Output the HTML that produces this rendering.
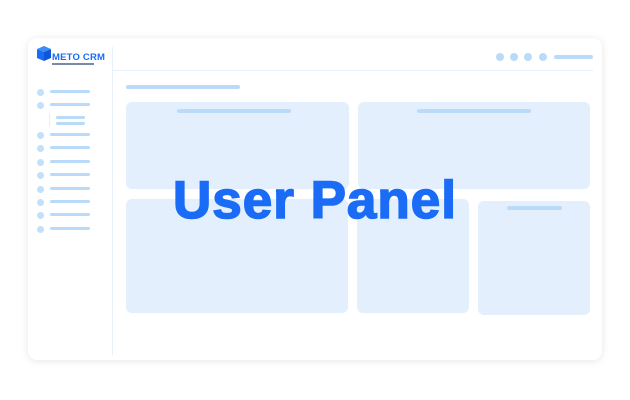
<!DOCTYPE html>
<html><head><style>
body{margin:0;width:630px;height:400px;background:#fff;position:relative;overflow:hidden;font-family:"Liberation Sans",sans-serif}
.a{position:absolute}
.card{left:28px;top:38px;width:574px;height:322px;border-radius:9px;background:#fff;box-shadow:0 1px 8px rgba(0,0,0,.10)}
.p{background:#e3effd;border-radius:6px}
.b{background:#b9dbf9;height:4px;border-radius:2px}
.d{background:#b9dbf9;width:8px;height:8px;border-radius:50%}
.sd{background:#c2e0fa;width:7px;height:7px;border-radius:50%}
</style></head><body>
<div class="a card"></div>
<div class="a" style="left:112px;top:47px;width:1px;height:308px;background:#e8f1fb"></div>
<div class="a" style="left:113px;top:70px;width:480px;height:1px;background:#e8f1fb"></div>
<svg class="a" style="left:36px;top:45px" width="16" height="17" viewBox="0 0 16 17"><polygon points="1,4 8,1 15,4 8,7" fill="#3b8cf7"/><polygon points="1,4 8,7 8,16 1,13" fill="#1a6cf6"/><polygon points="8,7 15,4 15,13 8,16" fill="#0d57d8"/></svg>
<div class="a" style="left:52px;top:52px;font-size:9.5px;font-weight:bold;color:#1a6cf6;letter-spacing:.2px">METO CRM</div>
<div class="a" style="left:52px;top:63px;width:42px;height:2px;background:#7a8aa8"></div>
<div class="a b" style="left:126px;top:85px;width:114px"></div>
<div class="a d" style="left:496px;top:53px"></div>
<div class="a d" style="left:510px;top:53px"></div>
<div class="a d" style="left:524px;top:53px"></div>
<div class="a d" style="left:539px;top:53px"></div>
<div class="a b" style="left:554px;top:55px;width:39px"></div>
<div class="a p" style="left:126px;top:102px;width:223px;height:87px"></div>
<div class="a p" style="left:358px;top:102px;width:232px;height:87px"></div>
<div class="a p" style="left:126px;top:199px;width:222px;height:114px"></div>
<div class="a p" style="left:357px;top:199px;width:112px;height:114px"></div>
<div class="a p" style="left:478px;top:201px;width:112px;height:114px"></div>
<div class="a b" style="left:177px;top:109px;width:114px"></div>
<div class="a b" style="left:417px;top:109px;width:114px"></div>
<div class="a b" style="left:507px;top:206px;width:55px"></div>
<div class="a sd" style="left:37px;top:89px"></div><div class="a b" style="left:50px;top:90px;width:40px;height:3px"></div>
<div class="a sd" style="left:37px;top:102px"></div><div class="a b" style="left:50px;top:103px;width:40px;height:3px"></div>
<div class="a" style="left:49px;top:113px;width:1px;height:14px;background:#e3effd"></div>
<div class="a b" style="left:56px;top:116px;width:29px;height:3px"></div>
<div class="a b" style="left:56px;top:122px;width:29px;height:3px"></div>
<div class="a sd" style="left:37px;top:132px"></div><div class="a b" style="left:50px;top:133px;width:40px;height:3px"></div>
<div class="a sd" style="left:37px;top:145px"></div><div class="a b" style="left:50px;top:146px;width:40px;height:3px"></div>
<div class="a sd" style="left:37px;top:159px"></div><div class="a b" style="left:50px;top:160px;width:40px;height:3px"></div>
<div class="a sd" style="left:37px;top:172px"></div><div class="a b" style="left:50px;top:173px;width:40px;height:3px"></div>
<div class="a sd" style="left:37px;top:186px"></div><div class="a b" style="left:50px;top:187px;width:40px;height:3px"></div>
<div class="a sd" style="left:37px;top:199px"></div><div class="a b" style="left:50px;top:200px;width:40px;height:3px"></div>
<div class="a sd" style="left:37px;top:212px"></div><div class="a b" style="left:50px;top:213px;width:40px;height:3px"></div>
<div class="a sd" style="left:37px;top:226px"></div><div class="a b" style="left:50px;top:227px;width:40px;height:3px"></div>
<div class="a" style="left:0;width:630px;top:169px;text-align:center;font-size:53px;font-weight:bold;color:#1a6cf6;line-height:64px;letter-spacing:1px;-webkit-text-stroke:1.6px #1a6cf6">User Panel</div>
</body></html>
